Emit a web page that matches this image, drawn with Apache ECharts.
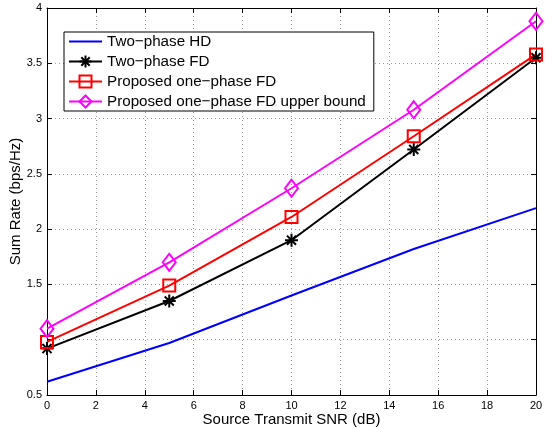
<!DOCTYPE html>
<html><head><meta charset="utf-8">
<script src="https://cdn.jsdelivr.net/npm/echarts@6/dist/echarts.min.js"></script>
<style>html,body{margin:0;padding:0;background:#fff}#c{width:552px;height:428px}</style>
</head><body><div id="c"></div>
<script>
const snr = [0, 5, 10, 15, 20];
const hdTwoPhase = [0.62, 0.97, 1.40, 1.82, 2.19];
const fdTwoPhase = [0.92, 1.35, 1.90, 2.72, 3.55];
const fdOnePhase = [0.98, 1.49, 2.11, 2.84, 3.58];
const fdUpperBound = [1.10, 1.70, 2.37, 3.08, 3.88];
const names = ['Two\u2212phase HD', 'Two\u2212phase FD', 'Proposed one\u2212phase FD', 'Proposed one\u2212phase FD upper bound'];

const pair = (ys) => snr.map((x, i) => [x, ys[i]]);
const font = 'Liberation Sans, Arial, sans-serif';
const star = 'path://M0,-10L0,10M-10,0L10,0M-7,-7L7,7M-7,7L7,-7';

const chart = echarts.init(document.getElementById('c'));
const axisCommon = {
  axisLine: {show: true, onZero: false, lineStyle: {color: '#000', width: 1}},
  axisTick: {show: true, inside: true, length: 5, lineStyle: {color: '#000'}},
};
chart.setOption({
  animation: false,
  grid: {left: 47, right: 16, top: 8, bottom: 33, containLabel: false, outerBoundsMode: 'none'},
  legend: {
    left: 64, top: 32, orient: 'vertical', itemGap: 5, itemWidth: 33, itemHeight: 15,
    padding: [2, 8, 2, 4], borderColor: '#000', borderWidth: 1, backgroundColor: '#fff',
    textStyle: {fontFamily: font, fontSize: 15.2, lineHeight: 15, color: '#000'},
    data: [
      {name: names[0], itemStyle: {opacity: 0}},
      {name: names[1]},
      {name: names[2]},
      {name: names[3]}
    ]
  },
  xAxis: [
    Object.assign({type: 'value', min: 0, max: 20, interval: 2,
      axisLabel: {fontFamily: font, fontSize: 11, color: '#000', margin: 5},
      splitLine: {show: true, lineStyle: {color: '#999', type: [1, 3], width: 1}},
      name: 'Source Transmit SNR (dB)', nameLocation: 'middle', nameGap: 17, nameMoveOverlap: false,
      nameTextStyle: {fontFamily: font, fontSize: 15, color: '#000'}}, axisCommon),
    Object.assign({type: 'value', min: 0, max: 20, interval: 2, position: 'top',
      axisLabel: {show: false}, splitLine: {show: false}}, axisCommon)
  ],
  yAxis: [
    Object.assign({type: 'value', min: 0.5, max: 4, interval: 0.5,
      axisLabel: {fontFamily: font, fontSize: 11, color: '#000', margin: 5,
        formatter: v => (Math.abs(v - 1) < 1e-9 ? '' : String(v))},
      splitLine: {show: true, lineStyle: {color: '#999', type: [1, 3], width: 1}},
      name: 'Sum Rate (bps/Hz)', nameLocation: 'middle', nameGap: 24, nameMoveOverlap: false,
      nameTextStyle: {fontFamily: font, fontSize: 15, color: '#000'}}, axisCommon),
    Object.assign({type: 'value', min: 0.5, max: 4, interval: 0.5, position: 'right',
      axisLabel: {show: false}, splitLine: {show: false}}, axisCommon)
  ],
  series: [
    {name: names[0], type: 'line', data: pair(hdTwoPhase), showSymbol: false, symbol: 'none',
     lineStyle: {color: '#0000ff', width: 2}, itemStyle: {color: '#0000ff'}},
    {name: names[1], type: 'line', data: pair(fdTwoPhase), symbol: star, symbolSize: 13,
     lineStyle: {color: '#000', width: 2},
     itemStyle: {color: '#000', borderColor: '#000', borderWidth: 2}},
    {name: names[2], type: 'line', data: pair(fdOnePhase), symbol: 'rect', symbolSize: 12,
     lineStyle: {color: '#ff0000', width: 2},
     itemStyle: {color: 'rgba(255,255,255,0)', borderColor: '#ff0000', borderWidth: 2}},
    {name: names[3], type: 'line', data: pair(fdUpperBound), symbol: 'diamond', symbolSize: [13, 17],
     lineStyle: {color: '#ff00ff', width: 2},
     itemStyle: {color: 'rgba(255,255,255,0)', borderColor: '#ff00ff', borderWidth: 2}}
  ]
});
</script></body></html>
